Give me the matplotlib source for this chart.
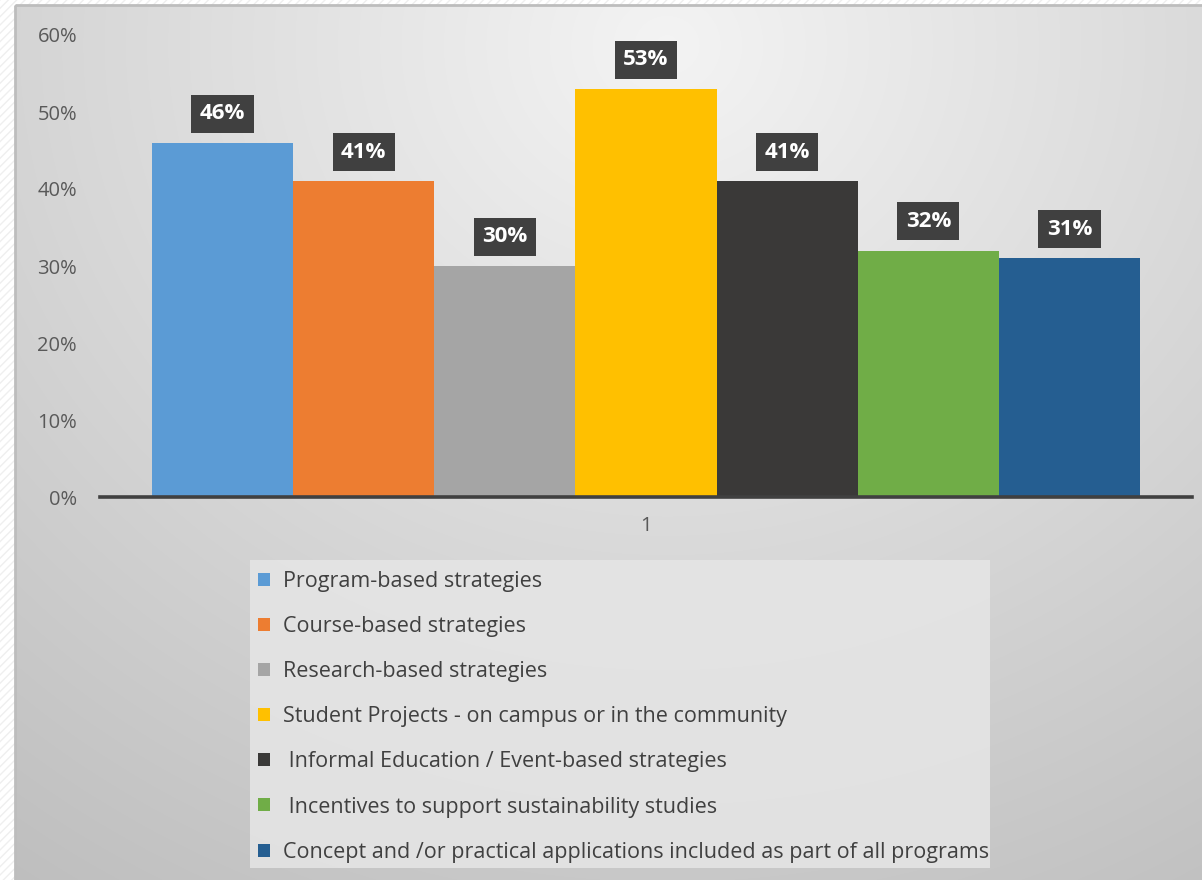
import numpy as np
import matplotlib.pyplot as plt
from matplotlib.patches import Rectangle

plt.rcParams['font.family'] = ['Open Sans', 'DejaVu Sans']

# data
series = [
    "Program-based strategies",
    "Course-based strategies",
    "Research-based strategies",
    "Student Projects - on campus or in the community",
    " Informal Education / Event-based strategies",
    " Incentives to support sustainability studies",
    "Concept and /or practical applications included as part of all programs",
]
values = [0.46, 0.41, 0.30, 0.53, 0.41, 0.32, 0.31]
colors = ["#5b9bd5", "#ed7d31", "#a5a5a5", "#ffc000", "#3a3938", "#70ad47", "#255e91"]
category = ["1"]
yticks = [0, 0.1, 0.2, 0.3, 0.4, 0.5, 0.6]

W, H = 1202, 880
fig = plt.figure(figsize=(W / 100, H / 100), dpi=100)

# background: white margin + gradient panel
bg = fig.add_axes([0, 0, 1, 1])
bg.set_xlim(0, W)
bg.set_ylim(H, 0)
bg.axis("off")
bg.add_patch(Rectangle((0, 0), W, H, facecolor="white", hatch="////",
                       edgecolor="#efefef", linewidth=0))
yy, xx = np.mgrid[0:H, 0:W]
r = np.sqrt(((xx - 660) / 1.0) ** 2 + ((yy - 40) / 0.9) ** 2)
t = np.clip(r / 1150, 0, 1)
shade = 0.955 - 0.21 * t
img = np.dstack([shade, shade, shade])
bg.imshow(img, extent=(15, W, H, 5), aspect="auto", zorder=1)
bg.add_patch(Rectangle((15, 5), W, H, fill=False, edgecolor="#bdbdbd",
                       linewidth=2, zorder=2))

# legend background
bg.add_patch(Rectangle((250, 560), 740, 308, facecolor="#e6e6e6",
                       edgecolor="none", alpha=0.85, zorder=2))

ax = fig.add_axes([100 / W, 1 - 497 / H, 1092 / W, 462 / H])
ax.patch.set_alpha(0)

n = len(values)
bw = 0.905 / n
for i, (v, c, lab) in enumerate(zip(values, colors, series)):
    x = -0.905 / 2 + bw * (i + 0.5)
    ax.bar(x, v, width=bw, color=c, label=lab, zorder=3)
    ax.annotate(f"{v * 100:.0f}%", (x, v), xytext=(0, 21),
                textcoords="offset points", ha="center", va="center",
                color="white", fontsize=16, fontweight="bold",
                bbox=dict(boxstyle="square,pad=0.38", facecolor="#404040",
                          edgecolor="none"), zorder=5)

ax.set_xlim(-0.5, 0.5)
ax.set_ylim(0, 0.6)
ax.set_yticks(yticks)
ax.set_yticklabels([f"{v * 100:.0f}%" for v in yticks])
ax.set_xticks([0])
ax.set_xticklabels(category)
ax.tick_params(axis="both", length=0, colors="#595959", labelsize=14.5)
ax.tick_params(axis="y", pad=16.5)
ax.tick_params(axis="x", pad=14)
for s in ["top", "right", "left"]:
    ax.spines[s].set_visible(False)
ax.spines["bottom"].set_color("#404040")
ax.spines["bottom"].set_linewidth(2.6)
ax.spines["bottom"].set_zorder(4)

leg = ax.legend(loc="upper left", bbox_to_anchor=(258 / W, 1 - 571 / H),
                bbox_transform=fig.transFigure, frameon=False, fontsize=15.5,
                handlelength=0.55, handleheight=0.55, handletextpad=0.6,
                labelspacing=1.12, borderaxespad=0, borderpad=0)
for txt in leg.get_texts():
    txt.set_color("#404040")

fig.savefig("out.png", dpi=100)
